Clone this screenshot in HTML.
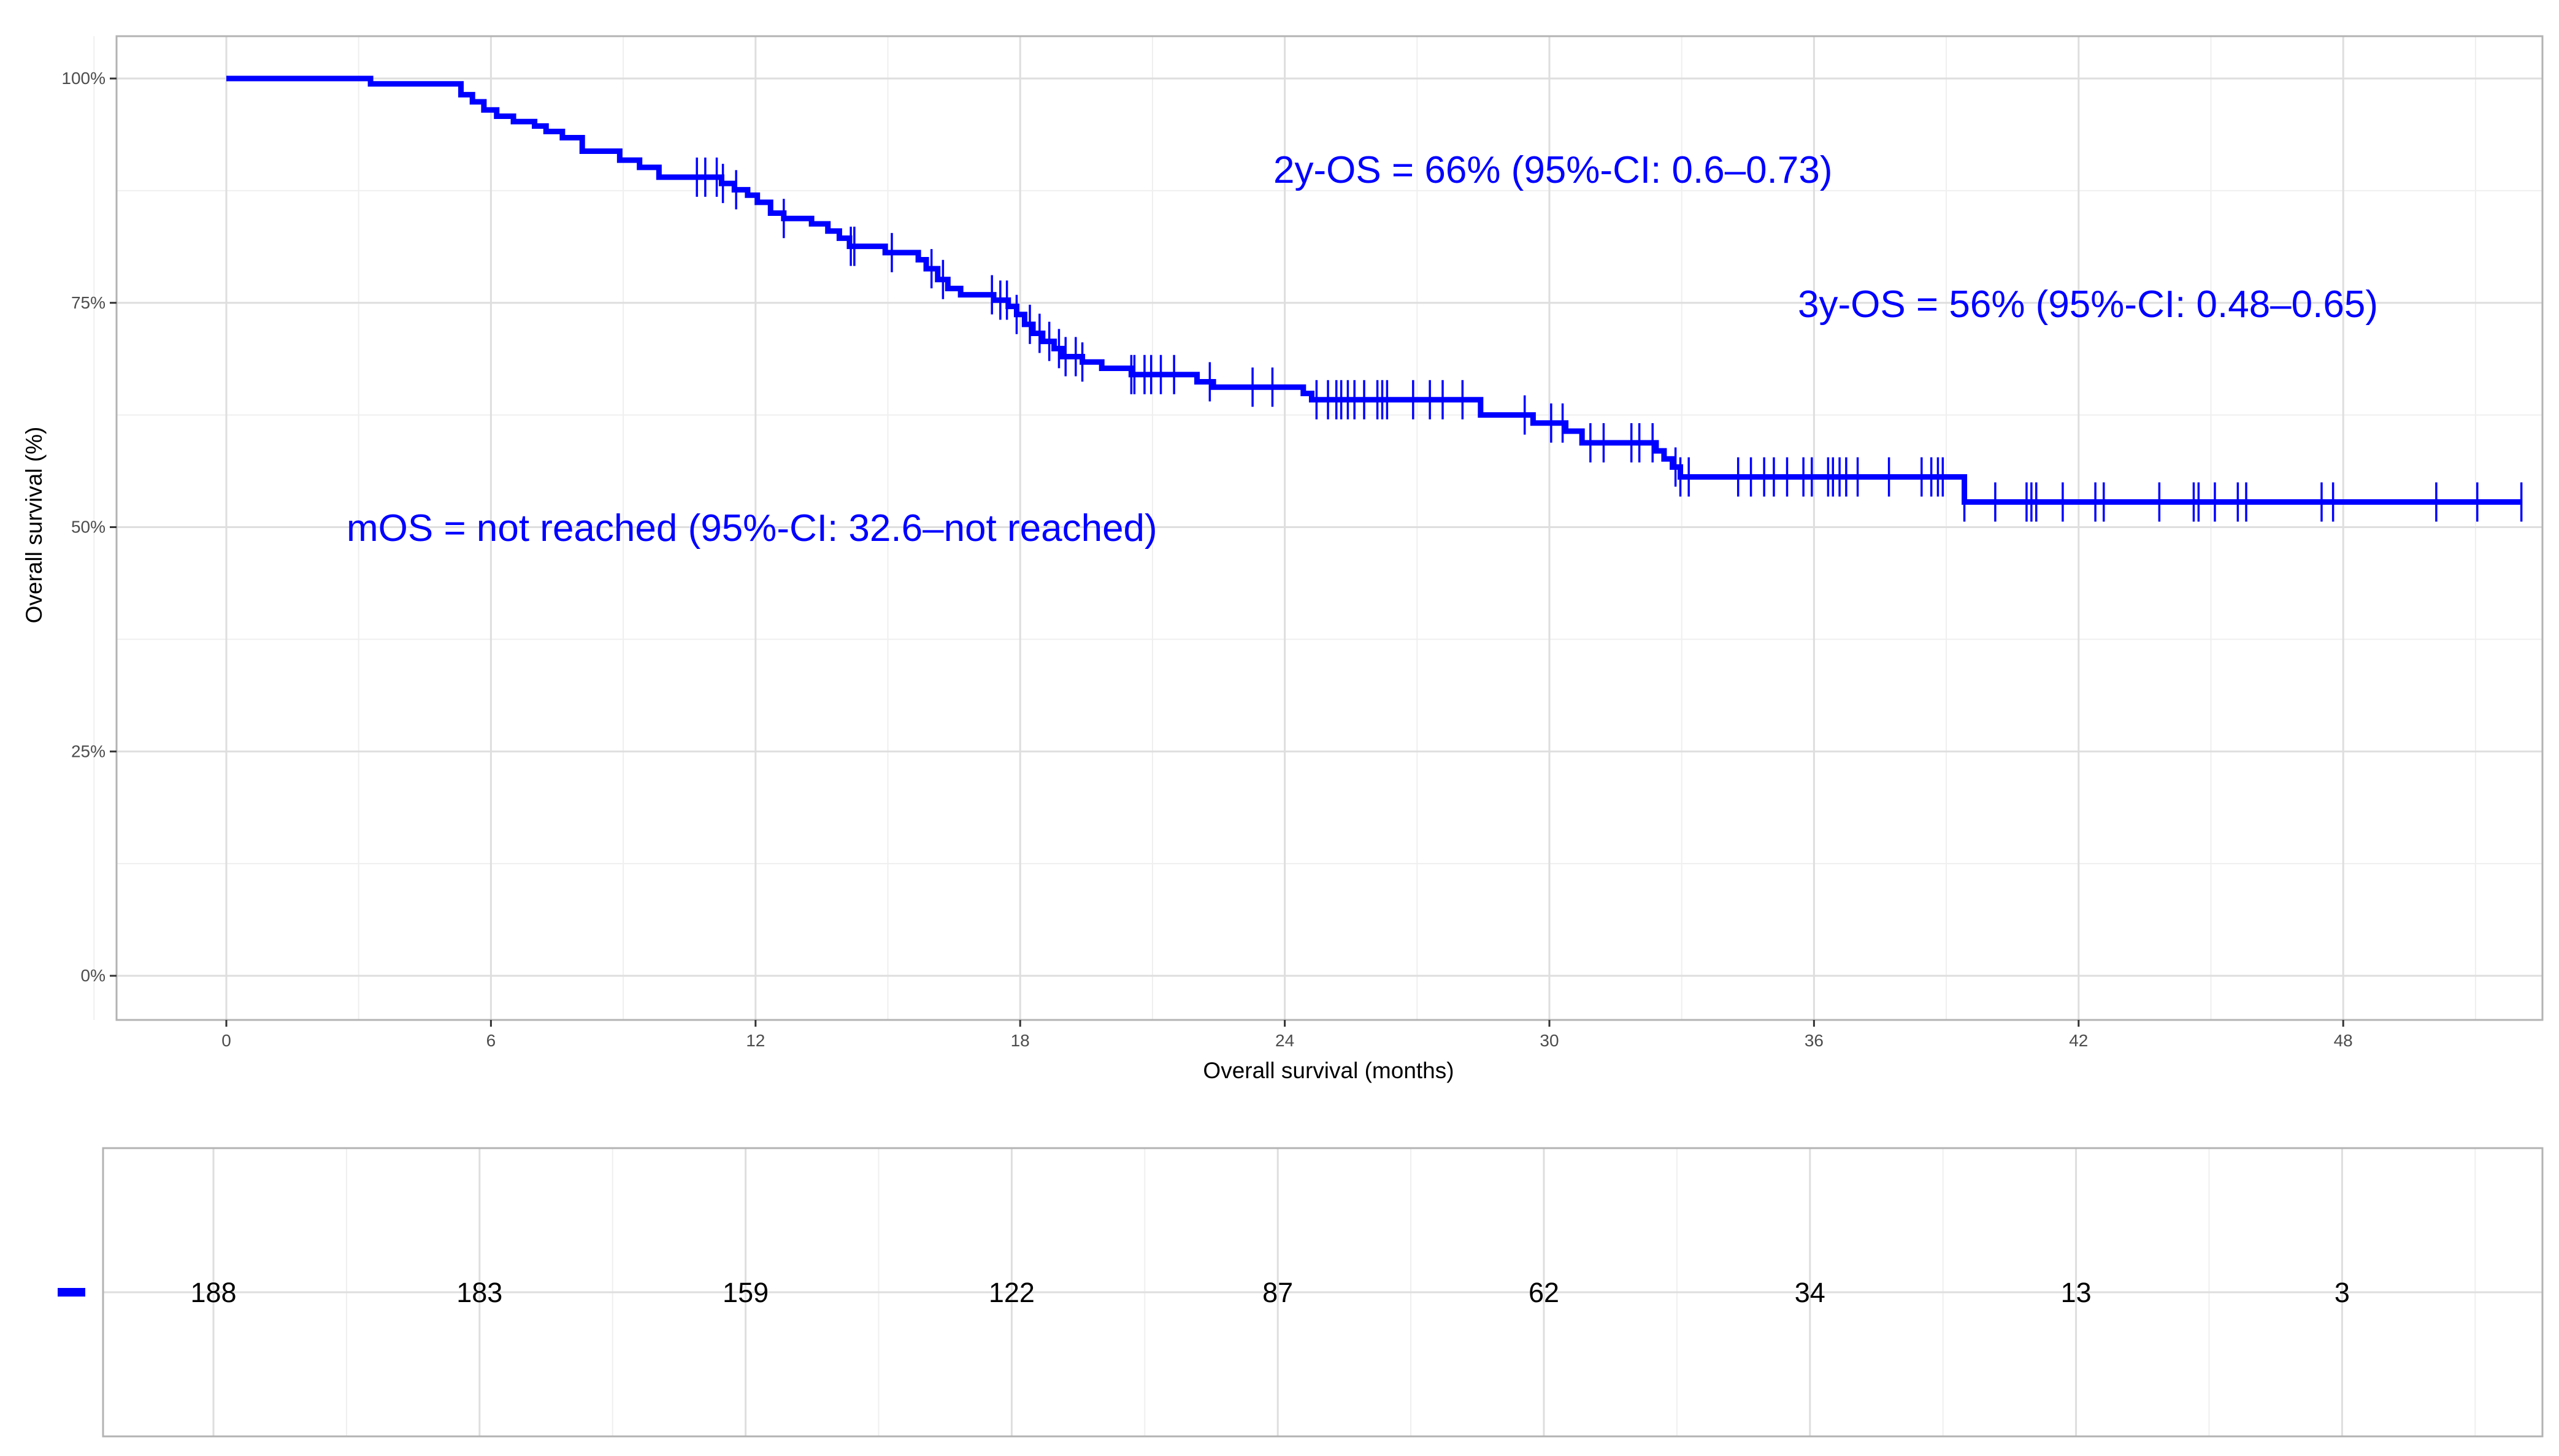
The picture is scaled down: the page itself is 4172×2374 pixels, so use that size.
<!DOCTYPE html>
<html><head><meta charset="utf-8"><style>
html,body{margin:0;padding:0;background:#fff;}
svg{display:block;font-family:"Liberation Sans",Arial,sans-serif;}
</style></head><body>
<svg id="chart" width="4172" height="2374" viewBox="0 0 4172 2374" xmlns="http://www.w3.org/2000/svg">
<rect x="0" y="0" width="4172" height="2374" fill="#fff"/>
<g id="grid"></g>
<g id="curve"></g>
<rect x="190" y="59" width="3955" height="1604" fill="none" stroke="#b3b3b3" stroke-width="3"/>
<g id="axes"></g>
<text x="2166" y="1758" font-size="37" text-anchor="middle" fill="#000">Overall survival (months)</text>
<text transform="translate(68,856) rotate(-90)" font-size="37" text-anchor="middle" fill="#000">Overall survival (%)</text>
<text x="2076" y="298" font-size="62" fill="#0000ff">2y-OS = 66% (95%-CI: 0.6–0.73)</text>
<text x="2931" y="517" font-size="62" fill="#0000ff">3y-OS = 56% (95%-CI: 0.48–0.65)</text>
<text x="565" y="882" font-size="62" fill="#0000ff">mOS = not reached (95%-CI: 32.6–not reached)</text>
<g id="risk"></g>
<rect x="168" y="1872" width="3977" height="470" fill="none" stroke="#b3b3b3" stroke-width="3"/>
<rect x="94" y="2100" width="45" height="14" fill="#0000ff"/>
</svg>
<script>
const stepTimes = [0,3.27,5.32,5.58,5.84,6.13,6.51,6.99,7.25,7.62,8.07,8.92,9.37,9.81,11.23,11.52,11.82,12.04,12.34,12.64,13.27,13.64,13.90,14.13,14.94,15.69,15.87,16.13,16.36,16.65,17.40,17.73,17.92,18.10,18.29,18.51,18.77,18.96,19.41,19.85,20.52,22.01,22.38,24.42,24.61,28.44,29.63,30.37,30.74,32.42,32.60,32.79,32.97,39.41];
const stepSurv = [100,99.4,98.2,97.4,96.5,95.8,95.2,94.7,94.1,93.4,91.9,90.9,90.1,89.0,88.3,87.6,87.0,86.2,85.0,84.4,83.8,83.0,82.2,81.3,80.6,79.8,78.8,77.6,76.6,75.9,75.3,74.6,73.7,72.6,71.6,70.7,69.9,69.0,68.4,67.7,67.0,66.2,65.6,64.9,64.2,62.5,61.6,60.7,59.4,58.5,57.6,56.7,55.6,52.8];
const endTime = 52.04;
const censorTimes = [10.67,10.86,11.12,11.26,11.56,12.64,14.16,14.24,15.09,15.99,16.25,17.36,17.55,17.70,17.92,18.22,18.44,18.66,18.88,19.03,19.26,19.41,20.52,20.59,20.82,20.97,21.19,21.49,22.30,23.27,23.72,24.72,24.98,25.17,25.28,25.43,25.58,25.80,26.10,26.21,26.32,26.91,27.29,27.58,28.03,29.44,30.04,30.30,30.93,31.23,31.86,32.04,32.34,32.86,32.97,33.16,34.28,34.57,34.87,35.09,35.39,35.76,35.95,36.32,36.43,36.58,36.73,36.99,37.70,38.44,38.66,38.81,38.92,39.41,40.11,40.82,40.93,41.04,41.64,42.38,42.57,43.83,44.61,44.72,45.09,45.61,45.80,47.51,47.77,50.11,51.04,52.04];
const xTicks = [0,6,12,18,24,30,36,42,48];
const yTicks = [0,25,50,75,100];
const yTickLabels = ["0%","25%","50%","75%","100%"];
const riskTimes = [0,6,12,18,24,30,36,42,48];
const riskCounts = [188,183,159,122,87,62,34,13,3];

const NS = "http://www.w3.org/2000/svg";
const X = t => 369 + t * 71.9;
const Y = s => 1591 - s * 14.63;
const RX = t => 348 + t * 72.3;
function mk(tag, attrs, parent){const e=document.createElementNS(NS,tag);for(const k in attrs)e.setAttribute(k,attrs[k]);parent.appendChild(e);return e;}

const grid=document.getElementById('grid'), axes=document.getElementById('axes'), curve=document.getElementById('curve'), risk=document.getElementById('risk');
for(let i=0;i<xTicks.length;i++){
  const m=xTicks[i]+3;
  const l=mk('line',{x1:X(m),x2:X(m),y1:59,y2:1663,stroke:'#efefef','stroke-width':2},grid);
  
  
  const r=mk('line',{x1:RX(m),x2:RX(m),y1:1872,y2:2342,stroke:'#efefef','stroke-width':2},risk);
  
  
}
{ const l=mk('line',{x1:X(-3),x2:X(-3),y1:59,y2:1663,stroke:'#efefef','stroke-width':2},grid);
  
   }
for(let i=0;i<yTicks.length-1;i++){
  const m=yTicks[i]+12.5;
  const l=mk('line',{x1:190,x2:4145,y1:Y(m),y2:Y(m),stroke:'#efefef','stroke-width':2},grid);
  
  
}
xTicks.forEach(t=>{
  const l=mk('line',{x1:X(t),x2:X(t),y1:59,y2:1663,stroke:'#dedede','stroke-width':3},grid);
  
  
  const tk=mk('line',{x1:X(t),x2:X(t),y1:1663,y2:1674,stroke:'#333','stroke-width':3},axes);
  
  
  const tx=mk('text',{x:X(t),y:1706,'font-size':28,'text-anchor':'middle',fill:'#4d4d4d'},axes);
  tx.textContent=t;
  
  
});
yTicks.forEach((s,i)=>{
  const l=mk('line',{x1:190,x2:4145,y1:Y(s),y2:Y(s),stroke:'#dedede','stroke-width':3},grid);
  
  
  const tk=mk('line',{x1:179,x2:190,y1:Y(s),y2:Y(s),stroke:'#333','stroke-width':3},axes);
  
  
  const tx=mk('text',{x:172,y:Y(s)+9,'font-size':28,'text-anchor':'end',fill:'#4d4d4d'},axes);
  tx.textContent=yTickLabels[i];
  
  
});
let d='M'+X(stepTimes[0])+','+Y(stepSurv[0]);
for(let i=1;i<stepTimes.length;i++){d+=' H'+X(stepTimes[i])+' V'+Y(stepSurv[i]);}
d+=' H'+X(endTime);
const p=mk('path',{d:d,fill:'none',stroke:'#0000ff','stroke-width':9,'stroke-linejoin':'miter'},curve);


function survAt(t){let s=stepSurv[0];for(let i=0;i<stepTimes.length;i++){if(stepTimes[i]<=t)s=stepSurv[i];}return s;}
censorTimes.forEach(t=>{
  const y=Y(survAt(t));
  const c=mk('line',{x1:X(t),x2:X(t),y1:y-32,y2:y+32,stroke:'#0000ff','stroke-width':3.5},curve);
  
  
});
{ const h=mk('line',{x1:168,x2:4145,y1:2107,y2:2107,stroke:'#dedede','stroke-width':3},risk);
  
   }
riskTimes.forEach((t,i)=>{
  const l=mk('line',{x1:RX(t),x2:RX(t),y1:1872,y2:2342,stroke:'#dedede','stroke-width':3},risk);
  
  
  const tx=mk('text',{x:RX(t),y:2123,'font-size':45,'text-anchor':'middle',fill:'#000'},risk);
  tx.textContent=riskCounts[i];
  
  
});
</script>
</body></html>
